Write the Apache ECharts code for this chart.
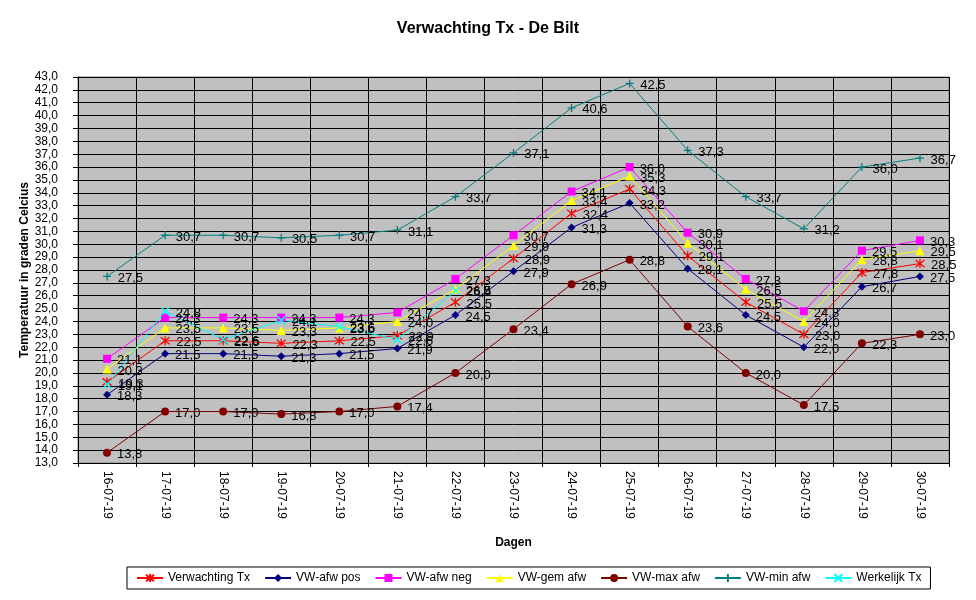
<!DOCTYPE html>
<html>
<head>
<meta charset="utf-8">
<script src="https://cdn.jsdelivr.net/npm/echarts@6/dist/echarts.min.js"></script>
<style>
  html, body { margin: 0; padding: 0; background: #fff; }
  #main { width: 976px; height: 600px; }
</style>
</head>
<body>
<div id="main"></div>
<script>
var dagen = ['16-07-19', '17-07-19', '18-07-19', '19-07-19', '20-07-19', '21-07-19', '22-07-19', '23-07-19',
             '24-07-19', '25-07-19', '26-07-19', '27-07-19', '28-07-19', '29-07-19', '30-07-19'];

var verwachtingTx = [19.3, 22.5, 22.5, 22.3, 22.5, 22.9, 25.5, 28.9, 32.4, 34.3, 29.1, 25.5, 23.0, 27.8, 28.5];
var afwPos        = [18.3, 21.5, 21.5, 21.3, 21.5, 21.9, 24.5, 27.9, 31.3, 33.2, 28.1, 24.5, 22.0, 26.7, 27.5];
var afwNeg        = [21.1, 24.3, 24.3, 24.3, 24.3, 24.7, 27.3, 30.7, 34.1, 36.0, 30.9, 27.3, 24.8, 29.5, 30.3];
var gemAfw        = [20.3, 23.5, 23.5, 23.3, 23.5, 24.0, 26.5, 29.9, 33.4, 35.3, 30.1, 26.5, 24.0, 28.8, 29.5];
var maxAfw        = [13.8, 17.0, 17.0, 16.8, 17.0, 17.4, 20.0, 23.4, 26.9, 28.8, 23.6, 20.0, 17.5, 22.3, 23.0];
var minAfw        = [27.5, 30.7, 30.7, 30.5, 30.7, 31.1, 33.7, 37.1, 40.6, 42.5, 37.3, 33.7, 31.2, 36.0, 36.7];
var werkelijkTx   = [19.1, 24.8, 22.6, 24.1, 23.6, 22.6, 26.4];

var yMin = 13, yMax = 43, yStep = 1;

var FONT = 'Liberation Sans, Arial, sans-serif';

function komma(v) {
    return v.toFixed(1).replace('.', ',');
}

// open paths, only stroked
var asterisk = 'path://M5,0L5,10M1,1L9,9M9,1L1,9';
var plus = 'path://M0,5L10,5M5,0L5,10';
var kruis = 'path://M0,0L10,10M10,0L0,10';

function reeks(naam, data, kleur, symbool, grootte, lijnSymbool) {
    return {
        name: naam,
        type: 'line',
        data: data,
        symbol: symbool,
        symbolSize: grootte,
        showAllSymbol: true,
        lineStyle: { color: kleur, width: 1 },
        itemStyle: lijnSymbool
            ? { color: kleur, borderColor: kleur, borderWidth: 1.3 }
            : { color: kleur, borderWidth: 0 },
        label: {
            show: true,
            position: 'right',
            distance: 6,
            offset: [0, 2],
            color: '#000',
            fontFamily: FONT,
            fontSize: 13,
            formatter: function (p) { return komma(p.value); }
        },
        emphasis: { disabled: true },
        animation: false
    };
}

var myChart = echarts.init(document.getElementById('main'));

var option = {
    backgroundColor: '#fff',
    title: {
        text: 'Verwachting Tx - De Bilt',
        left: 'center',
        top: 16,
        textStyle: { fontFamily: FONT, fontSize: 16, fontWeight: 'bold', color: '#000' }
    },
    legend: {
        left: 127,
        top: 567,
        width: 900,
        padding: [5, 9, 5, 9],
        itemGap: 14,
        itemWidth: 26,
        itemHeight: 10,
        selectedMode: false,
        backgroundColor: '#fff',
        borderColor: '#000',
        borderWidth: 1,
        borderRadius: 0,
        textStyle: { fontFamily: FONT, fontSize: 12, color: '#000' },
        data: ['Verwachting Tx', 'VW-afw pos', 'VW-afw neg', 'VW-gem afw', 'VW-max afw', 'VW-min afw', 'Werkelijk Tx']
    },
    grid: {
        left: 78,
        right: 27,
        top: 77,
        bottom: 137,
        show: true,
        backgroundColor: '#c0c0c0',
        borderColor: '#808080',
        borderWidth: 1
    },
    xAxis: {
        type: 'category',
        data: dagen,
        boundaryGap: true,
        name: 'Dagen',
        nameLocation: 'middle',
        nameGap: 74,
        nameMoveOverlap: false,
        nameTextStyle: { fontFamily: FONT, fontSize: 12, fontWeight: 'bold', color: '#000' },
        axisLine: { lineStyle: { color: '#000', width: 1 } },
        axisTick: { show: true, length: 4, lineStyle: { color: '#000' } },
        axisLabel: { rotate: -90, margin: 8, fontFamily: FONT, fontSize: 12, color: '#000', interval: 0 },
        splitLine: { show: true, lineStyle: { color: '#000', width: 1 } }
    },
    yAxis: {
        type: 'value',
        min: yMin,
        max: yMax,
        interval: yStep,
        name: 'Temperatuur in graden Celcius',
        nameLocation: 'middle',
        nameGap: 47,
        nameMoveOverlap: false,
        nameTextStyle: { fontFamily: FONT, fontSize: 12, fontWeight: 'bold', color: '#000' },
        axisLine: { show: true, lineStyle: { color: '#000', width: 1 } },
        axisTick: { show: true, length: 5, lineStyle: { color: '#000' } },
        axisLabel: { margin: 20, fontFamily: FONT, fontSize: 12, color: '#000', formatter: komma },
        splitLine: { show: true, lineStyle: { color: '#000', width: 1 } }
    },
    series: [
        reeks('Verwachting Tx', verwachtingTx, '#ff0000', asterisk, 9, true),
        reeks('VW-afw pos', afwPos, '#000080', 'diamond', 8, false),
        reeks('VW-afw neg', afwNeg, '#ff00ff', 'rect', 8, false),
        reeks('VW-gem afw', gemAfw, '#ffff00', 'triangle', 9, false),
        reeks('VW-max afw', maxAfw, '#800000', 'circle', 8, false),
        reeks('VW-min afw', minAfw, '#008080', plus, 8, true),
        reeks('Werkelijk Tx', werkelijkTx, '#00ffff', kruis, 8, true)
    ]
};

myChart.setOption(option);
</script>
</body>
</html>
